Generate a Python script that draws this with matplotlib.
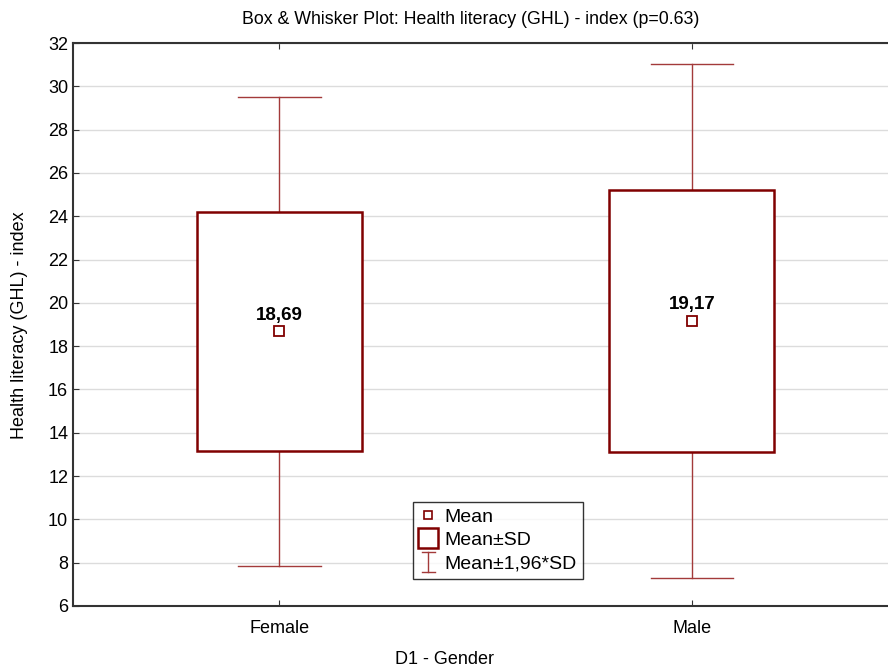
import numpy as np
import matplotlib
matplotlib.use("Agg")
import matplotlib.pyplot as plt
from matplotlib.lines import Line2D
from matplotlib.legend_handler import HandlerBase

plt.rcParams['font.family'] = ['Liberation Sans', 'DejaVu Sans']

# Dados
grupos = ['Female', 'Male']
media = [18.69, 19.17]
sd_baixo = [13.17, 13.12]
sd_alto = [24.19, 25.22]
ic_baixo = [7.85, 7.30]
ic_alto = [29.52, 31.04]
rotulos_media = ['18,69', '19,17']

COR_CAIXA = '#800000'
COR_BIGODE = '#a33a3a'


# Desenha o simbolo "I" da legenda
class HandlerBigode(HandlerBase):
    def create_artists(self, legend, orig_handle, xdescent, ydescent,
                       width, height, fontsize, trans):
        cx = width / 2 - xdescent
        y0 = -ydescent - 3
        y1 = height - ydescent + 2
        w = 5
        linhas = [
            Line2D([cx, cx], [y0, y1]),
            Line2D([cx - w, cx + w], [y0, y0]),
            Line2D([cx - w, cx + w], [y1, y1]),
        ]
        for l in linhas:
            l.set_color(COR_BIGODE)
            l.set_linewidth(1)
            l.set_transform(trans)
        return linhas


fig = plt.figure(figsize=(8.88, 6.71), dpi=100)
ax = fig.add_axes([73 / 888, 1 - 606 / 671, 825 / 888, 563 / 671])

x = np.arange(1, len(grupos) + 1)
larg_caixa = 0.4
larg_cap = 0.2

for i, xi in enumerate(x):
    # bigodes
    ax.plot([xi, xi], [ic_baixo[i], sd_baixo[i]], color=COR_BIGODE, lw=1, zorder=2)
    ax.plot([xi, xi], [sd_alto[i], ic_alto[i]], color=COR_BIGODE, lw=1, zorder=2)
    for yc in (ic_baixo[i], ic_alto[i]):
        ax.plot([xi - larg_cap / 2, xi + larg_cap / 2], [yc, yc],
                color=COR_BIGODE, lw=1, zorder=2)
    # caixa media +- SD
    ax.add_patch(plt.Rectangle((xi - larg_caixa / 2, sd_baixo[i]), larg_caixa,
                               sd_alto[i] - sd_baixo[i], facecolor='white',
                               edgecolor=COR_CAIXA, lw=1.8, zorder=3))
    # media
    ax.plot(xi, media[i], marker='s', ms=7, mfc='white', mec=COR_CAIXA,
            mew=1.3, ls='none', zorder=4)
    ax.text(xi, media[i] + 0.35, rotulos_media[i], ha='center', va='bottom',
            fontsize=13.5, fontweight='bold', zorder=5)

ax.set_xlim(0.5, 2.5)
ax.set_ylim(6, 32)
ax.set_yticks(np.arange(6, 33, 2))
ax.set_xticks(x)
ax.set_xticklabels(grupos)
ax.tick_params(axis='both', direction='in', length=4, labelsize=13,
               color='#333333', top=True)
ax.tick_params(axis='x', pad=10)
ax.grid(axis='y', color='#dcdcdc', lw=1)
ax.set_axisbelow(True)
for lado in ['left', 'bottom', 'top']:
    ax.spines[lado].set_color('#333333')
    ax.spines[lado].set_linewidth(1.5)
ax.spines['right'].set_visible(False)

fig.text(20 / 888, 1 - 325 / 671, 'Health literacy (GHL) - index',
         rotation=90, ha='center', va='center', fontsize=13)
fig.text(444 / 888, 1 - 660 / 671, 'D1 - Gender', ha='center', va='center',
         fontsize=13)
fig.text(471 / 888, 1 - 20 / 671,
         'Box & Whisker Plot: Health literacy (GHL) - index (p=0.63)',
         ha='center', va='center', fontsize=12.8)

# Legenda
h_media = Line2D([], [], marker='s', ms=6, mfc='white', mec=COR_CAIXA,
                 mew=1.2, ls='none')
h_sd = Line2D([], [], marker='s', ms=14, mfc='white', mec=COR_CAIXA,
              mew=1.8, ls='none')
h_ic = object()
leg = ax.legend([h_media, h_sd, h_ic], ['Mean', 'Mean±SD', 'Mean±1,96*SD'],
                handler_map={object: HandlerBigode()},
                loc='lower left', bbox_to_anchor=(0.412, 0.048),
                fontsize=14, frameon=True, fancybox=False,
                handlelength=0.9, handletextpad=0.35, labelspacing=0.28,
                borderpad=0.35, borderaxespad=0)
leg.get_frame().set_edgecolor('black')
leg.get_frame().set_linewidth(1)

fig.savefig('out.png', dpi=100)
